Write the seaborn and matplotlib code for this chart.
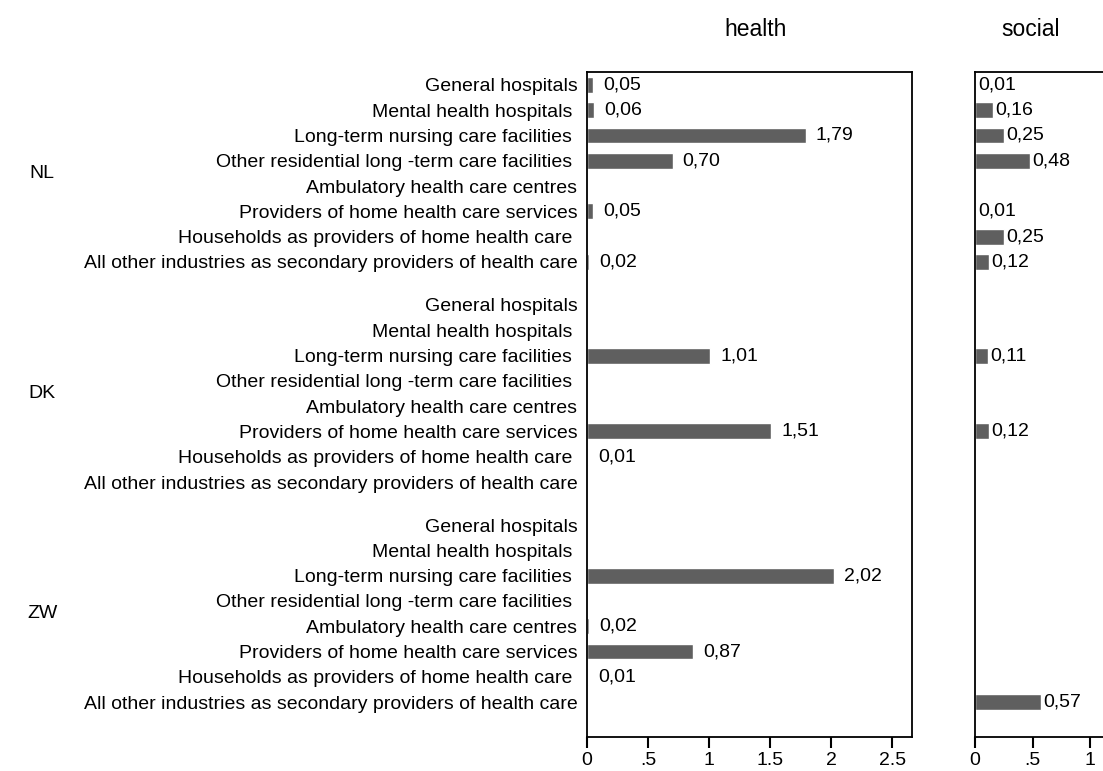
import numpy as np
import pandas as pd
import matplotlib
matplotlib.use("Agg")
import matplotlib.pyplot as plt
import matplotlib.transforms as mtransforms
import seaborn as sns

# Donnees
countries = ["NL", "DK", "ZW"]
categories = [
    "General hospitals",
    "Mental health hospitals ",
    "Long-term nursing care facilities ",
    "Other residential long -term care facilities ",
    "Ambulatory health care centres",
    "Providers of home health care services",
    "Households as providers of home health care ",
    "All other industries as secondary providers of health care",
]
nan = np.nan
health_nl = [0.05, 0.06, 1.79, 0.70, nan, 0.05, nan, 0.02]
health_dk = [nan, nan, 1.01, nan, nan, 1.51, 0.01, nan]
health_zw = [nan, nan, 2.02, nan, 0.02, 0.87, 0.01, nan]
social_nl = [0.01, 0.16, 0.25, 0.48, nan, 0.01, 0.25, 0.12]
social_dk = [nan, nan, 0.11, nan, nan, 0.12, nan, nan]
social_zw = [nan, nan, nan, nan, nan, nan, nan, 0.57]
panels = ["health", "social"]
health_ticks = [0, 0.5, 1, 1.5, 2, 2.5]
health_tick_labels = ["0", ".5", "1", "1.5", "2", "2.5"]
# le panneau social est coupe a droite : seuls 0, .5 et 1 sont visibles
social_ticks = [0, 0.5, 1]
social_tick_labels = ["0", ".5", "1"]

group_gap = 0.7
values = {
    "health": [health_nl, health_dk, health_zw],
    "social": [social_nl, social_dk, social_zw],
}
rows = []
for p in panels:
    for g, c in enumerate(countries):
        for i, cat in enumerate(categories):
            rows.append({"panel": p, "country": c, "category": cat,
                         "pos": g * (len(categories) + group_gap) + i,
                         "value": values[p][g][i]})
df = pd.DataFrame(rows)

sns.set_theme(style="white")
plt.rcParams["font.family"] = ["Liberation Sans", "DejaVu Sans"]
plt.rcParams["font.size"] = 14
plt.rcParams["text.color"] = "black"
plt.rcParams["xtick.labelcolor"] = "black"
plt.rcParams["ytick.labelcolor"] = "black"

fig = plt.figure(figsize=(11.03, 7.71), dpi=100)
W, H = 1103, 771
ax_h = fig.add_axes([587 / W, 1 - 737 / H, 325 / W, 665 / H])
ax_s = fig.add_axes([975 / W, 1 - 737 / H, 307 / W, 665 / H])

bar_color = "#5f5f5f"
positions = df[df.panel == "health"]["pos"].values
ymax = positions.max() + 1.38
ymin = -0.51

setup = [
    (ax_h, "health", 7, 0.52, health_ticks, health_tick_labels),
    (ax_s, "social", 1.5, 0.18, social_ticks, social_tick_labels),
]
for ax, p, pad, title_x, ticks, tick_labels in setup:
    sub = df[(df.panel == p)].dropna(subset=["value"])
    sns.barplot(data=sub, x="value", y="pos", orient="h", native_scale=True,
                color=bar_color, width=0.63, saturation=1, ax=ax, errorbar=None)
    for cont in ax.containers:
        ax.bar_label(cont, fmt=lambda v: f"{v:.2f}".replace(".", ","),
                     padding=pad, fontsize=14, color="black")
    ax.set_xlim(0, 2.66)
    ax.set_ylim(ymax, ymin)
    ax.set_xlabel("")
    ax.set_ylabel("")
    ax.text(title_x, 1 + 42 / 665, p, transform=ax.transAxes,
            ha="center", va="center", fontsize=16.5, color="black")
    ax.set_xticks(ticks, tick_labels)
    ax.tick_params(axis="x", length=8, width=1.5, direction="out",
                   bottom=True, color="black", labelsize=14, pad=3)
    for s in ax.spines.values():
        s.set_color("black")
        s.set_linewidth(1.3)
        s.set_visible(True)

ax_h.set_yticks(positions, list(categories) * len(countries))
ax_h.tick_params(axis="y", length=0, pad=7, labelsize=14)
ax_s.set_yticks([])

# Etiquettes des pays
trans = mtransforms.blended_transform_factory(fig.transFigure, ax_h.transData)
for g, c in enumerate(countries):
    ymid = g * (len(categories) + group_gap) + (len(categories) - 1) / 2
    fig.text(42 / W, ymid, c, transform=trans, ha="center", va="center",
             fontsize=14, color="black")

plt.savefig("out.png", dpi=100)
